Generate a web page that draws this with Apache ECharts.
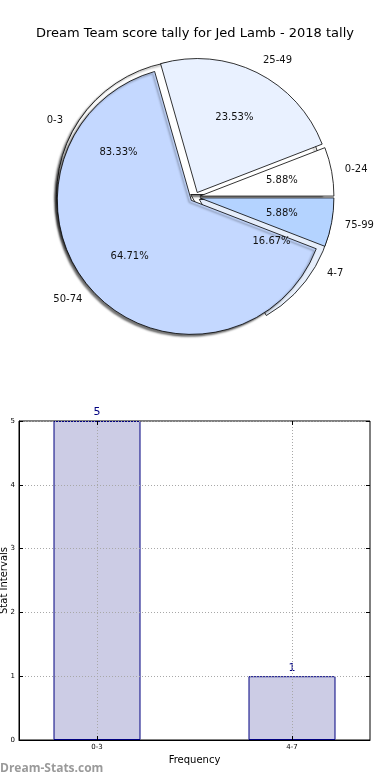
<!DOCTYPE html>
<html>
<head>
<meta charset="utf-8">
<script src="https://cdn.jsdelivr.net/npm/echarts@6/dist/echarts.min.js"></script>
<style>
html,body{margin:0;padding:0;background:#fff;}
#c{width:390px;height:780px;}
</style>
</head>
<body>
<div id="c"></div>
<script>
// ---- data ----
const titleText = 'Dream Team score tally for Jed Lamb - 2018 tally';
const pieCats1 = ['0-24', '25-49', '50-74', '75-99'];
const pieVals1 = [1, 4, 11, 1];
const pieColors1 = ['#ffffff', '#e9f1ff', '#c4d8ff', '#b4d3ff'];
const pieCats2 = ['0-3', '4-7'];
const pieVals2 = [5, 1];
const pieColors2 = ['#ffffff', '#e6eefb'];
const barCats = ['0-3', '4-7'];
const barVals = [5, 1];
const yTicks = [0, 1, 2, 3, 4, 5];

// ---- layout ----
const FONT = 'DejaVu Sans';
const R = 134;
const CENTER = [195, 197];
const OFFSET = 5;

function shapeData(cats, vals, colors, shadowIdx) {
  return cats.map((c, i) => {
    const item = { name: c, value: vals[i], selected: true,
      itemStyle: { color: colors[i] } };
    if (shadowIdx.indexOf(i) >= 0) {
      item.itemStyle.shadowColor = 'rgba(0,0,0,0.55)';
      item.itemStyle.shadowBlur = 2;
      item.itemStyle.shadowOffsetX = -2;
      item.itemStyle.shadowOffsetY = 2;
    }
    return item;
  });
}
function labelData(cats, vals) {
  return cats.map((c, i) => ({ name: c, value: vals[i], selected: true }));
}
function piePair(cats, vals, colors, shadowIdx, z) {
  const common = {
    type: 'pie', center: CENTER, startAngle: 0, clockwise: false,
    selectedMode: 'multiple', selectedOffset: OFFSET, avoidLabelOverlap: false,
    animation: false, silent: true, z: z
  };
  const shapes = Object.assign({}, common, {
    radius: [0, R],
    data: shapeData(cats, vals, colors, shadowIdx),
    itemStyle: { borderColor: '#000', borderWidth: 0.8 },
    select: { itemStyle: { borderColor: '#000', borderWidth: 0.8 } },
    label: { show: true, position: 'outside', formatter: '{b}',
      fontFamily: FONT, fontSize: 10, color: '#111', distanceToLabelLine: 0 },
    labelLine: { show: false, length: R * 0.1, length2: 0 }
  });
  const pct = Object.assign({}, common, {
    radius: [R * 0.48, R * 0.72],
    data: labelData(cats, vals),
    itemStyle: { color: 'rgba(0,0,0,0)', borderWidth: 0 },
    select: { itemStyle: { color: 'rgba(0,0,0,0)', borderWidth: 0 } },
    label: { show: true, position: 'inside', formatter: '{d}%',
      fontFamily: FONT, fontSize: 10, color: '#111' },
    labelLine: { show: false },
    z: 10
  });
  return [shapes, pct];
}

const chart = echarts.init(document.getElementById('c'), null, { renderer: 'canvas' });

const option = {
  animation: false,
  backgroundColor: '#fff',
  title: {
    text: titleText, left: 'center', top: 22,
    textStyle: { fontFamily: FONT, fontSize: 13, fontWeight: 'normal', color: '#000' }
  },
  graphic: [{
    type: 'text', left: 0, top: 763,
    style: { text: 'Dream-Stats.com', fontFamily: 'Open Sans', fontSize: 12, fontWeight: 'bold', fill: '#9a9a9a' }
  }],
  grid: { left: 19, right: 20, top: 421, bottom: 40, show: true, borderColor: '#000', borderWidth: 1,
    containLabel: false, outerBoundsMode: 'none' },
  xAxis: [{
    type: 'value', min: -0.4, max: 1.4, position: 'bottom', z: 5,
    name: 'Frequency', nameLocation: 'middle', nameGap: 15, nameMoveOverlap: false,
    nameTextStyle: { fontFamily: FONT, fontSize: 10, color: '#000' },
    axisLine: { show: true, onZero: false, lineStyle: { color: '#000' } },
    axisTick: { show: true, inside: true, length: 4, customValues: [0, 1], lineStyle: { color: '#000' } },
    axisLabel: { customValues: [0, 1], formatter: v => barCats[Math.round(v)],
      fontFamily: FONT, fontSize: 7, color: '#000', margin: 4 },
    splitLine: { show: true, lineStyle: { color: '#a8a8a8', type: [1, 2], width: 1 } }
  }, {
    type: 'value', min: -0.4, max: 1.4, position: 'top', z: 5,
    axisLine: { show: false, onZero: false },
    axisTick: { show: true, inside: true, length: 4, customValues: [0, 1], lineStyle: { color: '#000' } },
    axisLabel: { show: false }, splitLine: { show: false }
  }],
  yAxis: [{
    type: 'value', min: yTicks[0], max: yTicks[yTicks.length - 1], interval: 1, position: 'left', z: 5,
    name: 'Stat Intervals', nameLocation: 'middle', nameGap: 10, nameRotate: 90, nameMoveOverlap: false,
    nameTextStyle: { fontFamily: FONT, fontSize: 10, color: '#000' },
    axisLine: { show: true, onZero: false, lineStyle: { color: '#000' } },
    axisTick: { show: true, inside: true, length: 4, lineStyle: { color: '#000' } },
    axisLabel: { fontFamily: FONT, fontSize: 7, color: '#000', margin: 4 },
    splitLine: { show: true, lineStyle: { color: '#a8a8a8', type: [1, 2], width: 1 } }
  }, {
    type: 'value', min: yTicks[0], max: yTicks[yTicks.length - 1], interval: 1, position: 'right', z: 5,
    axisLine: { show: false, onZero: false },
    axisTick: { show: true, inside: true, length: 4, lineStyle: { color: '#000' } },
    axisLabel: { show: false }, splitLine: { show: false }
  }],
  series: [].concat(
    piePair(pieCats2, pieVals2, pieColors2, [0], 1),
    piePair(pieCats1, pieVals1, pieColors1, [2], 3),
    [{
      type: 'bar', xAxisIndex: 0, yAxisIndex: 0, barWidth: 87, z: 2,
      data: barVals.map((v, i) => [i, v]),
      itemStyle: { color: '#ccccE5', borderColor: '#000080', borderWidth: 1 },
      label: { show: true, position: 'top', distance: 3, fontFamily: FONT, fontSize: 11, color: '#000080',
        formatter: p => p.value[1] },
      animation: false
    }]
  )
};
chart.setOption(option);
</script>
</body>
</html>
